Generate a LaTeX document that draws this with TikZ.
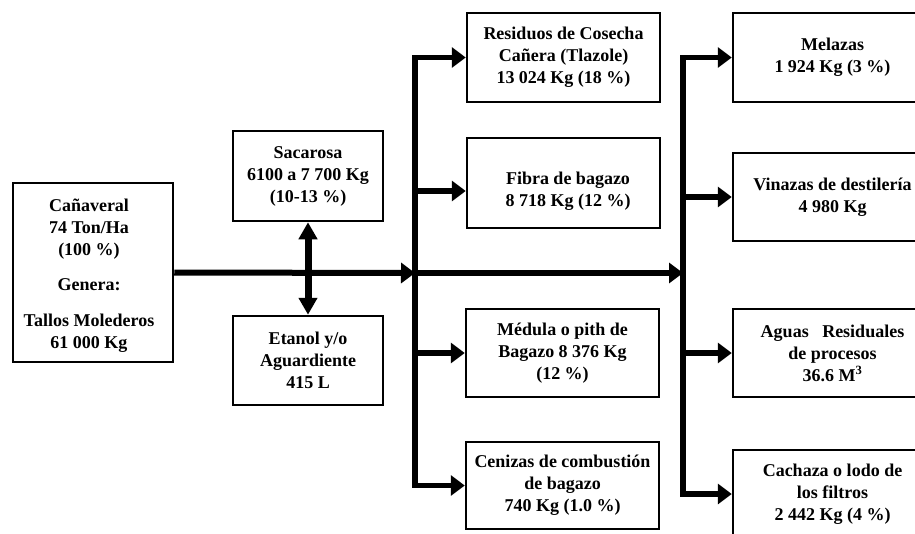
\documentclass[tikz,border=0pt]{standalone}
\usepackage{fontspec}
\setmainfont{Liberation Serif}
\usetikzlibrary{arrows.meta}

\begin{document}
\begin{tikzpicture}[x=1pt,y=-1pt]
\tikzset{caja/.style={draw,line width=2.5pt,align=center,inner sep=0pt,font=\fontsize{18}{22}\selectfont\bfseries}}
\tikzset{flujo/.style={line width=6pt,-{Triangle[length=14pt,width=20pt]}}}
\tikzset{bus/.style={line width=5.5pt,{Triangle[length=14pt,width=20pt]}-{Triangle[length=14pt,width=20pt]}}}
\tikzset{doble/.style={line width=7pt,{Triangle[length=17pt,width=18pt]}-{Triangle[length=17pt,width=18pt]}}}

\clip (0,0) rectangle (915,533);

\node[caja,minimum width=160pt,minimum height=179pt] (can) at (93,272.5) {};
\node[font=\fontsize{18}{22}\selectfont\bfseries,align=center] at (89,275.5) {Cañaveral\\74 Ton/Ha\\(100 \%)\\[13pt]Genera:\\[14pt]Tallos Molederos\\61 000 Kg};
\node[caja,minimum width=150pt,minimum height=90pt] (sac) at (308,176) {Sacarosa\\6100 a 7 700 Kg\\(10-13 \%)};
\node[caja,minimum width=150pt,minimum height=89pt] (eta) at (308,360.5) {Etanol y/o\\Aguardiente\\415 L};

\node[caja,minimum width=193pt,minimum height=89pt] (res) at (563.5,57.5) {Residuos de Cosecha\\Cañera (Tlazole)\\13 024 Kg (18 \%)};
\node[caja,minimum width=193pt,minimum height=90pt] (fib) at (563.5,183) {};
\node[font=\fontsize{18}{22}\selectfont\bfseries,align=center] at (568,191) {Fibra de bagazo\\8 718 Kg (12 \%)};
\node[caja,minimum width=193pt,minimum height=88pt] (med) at (562.5,353) {Médula o pith de\\Bagazo 8 376 Kg\\(12 \%)};
\node[caja,minimum width=193pt,minimum height=87pt] (cen) at (562.5,485.5) {Cenizas de combustión\\de bagazo\\740 Kg (1.0 \%)};

\node[caja,minimum width=199pt,minimum height=89pt] (mel) at (832.5,57.5) {Melazas\\1 924 Kg (3 \%)};
\node[caja,minimum width=199pt,minimum height=88pt] (vin) at (832.5,197) {Vinazas de destilería\\4 980 Kg};
\node[caja,minimum width=199pt,minimum height=88pt] (agu) at (832.5,353) {Aguas\ \ \ Residuales\\de procesos\\36.6 M\textsuperscript{3}};
\node[caja,minimum width=199pt,minimum height=88pt] (cac) at (832.5,494) {Cachaza o lodo de\\los filtros\\2 442 Kg (4 \%)};

\coordinate (bus1) at (415,273);
\coordinate (bus2) at (683,273);

\draw[flujo] (can.east) -- (bus1);
\draw[flujo] (bus1) -- (bus2);
\draw[doble] (sac.south) -- (eta.north);

\draw[bus] (res.west) -- (res.west -| bus1) -- (cen.west -| bus1) -- (cen.west);
\draw[flujo] ([yshift=-8pt]fib.west -| bus1) -- ([yshift=-8pt]fib.west);
\draw[flujo] (med.west -| bus1) -- (med.west);

\draw[bus] (mel.west) -- (mel.west -| bus2) -- (cac.west -| bus2) -- (cac.west);
\draw[flujo] (vin.west -| bus2) -- (vin.west);
\draw[flujo] (agu.west -| bus2) -- (agu.west);

\end{tikzpicture}
\end{document}
